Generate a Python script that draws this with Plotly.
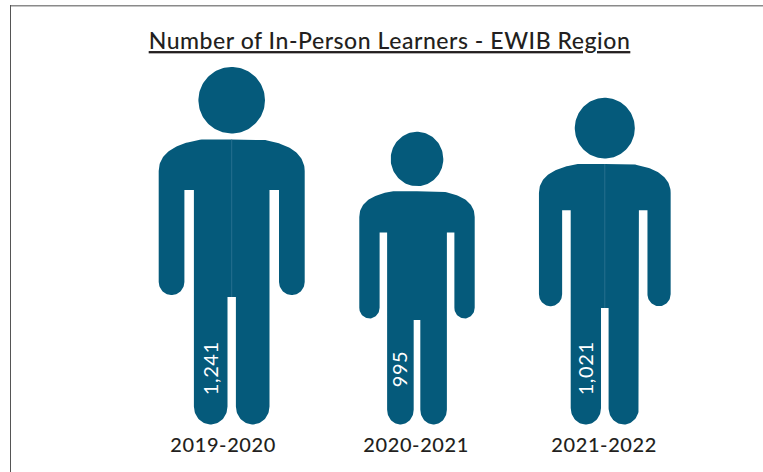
import numpy as np
import plotly.graph_objects as go

# ---- data ----
TITLE = "Number of In-Person Learners - EWIB Region"
categories = ["2019-2020", "2020-2021", "2021-2022"]
learners = [1241, 995, 1021]
# drawn size of each silhouette (the picture's sizes are not proportional to the values)
figure_heights = [357.5, 292.7, 326.7]
figure_widths = [146.0, 115.4, 131.7]
figure_centers = [231.7, 417.0, 604.8]
label_centers = [223.5, 415.5, 603.7]
has_seam = [True, False, True]

# ---- style ----
W, H = 763, 472
BASE_PX = 424.5          # pixel row of the figures' feet (y = 0)
BLUE = "#055A7B"
SEAM = "#2F7594"
INK = "#231F20"
FONT = "Lato"

# ---- silhouette template, in units of the tallest figure ----
REF_W, REF_H = 146.0, 357.5


def arc(cu, cv, ru, rv, a0, a1, n=40):
    t = np.radians(np.linspace(a0, a1, n))
    return cu + ru * np.cos(t), cv + rv * np.sin(t)


def bezier(p0, p1, p2, p3, n=40):
    t = np.linspace(0, 1, n)[:, None]
    p = ((1 - t) ** 3 * np.array(p0) + 3 * (1 - t) ** 2 * t * np.array(p1)
         + 3 * (1 - t) * t ** 2 * np.array(p2) + t ** 3 * np.array(p3))
    return p[:, 0], p[:, 1]


def half_body():
    """Right half of the body, from the top centre to the crotch."""
    parts = [
        (np.array([0.0]), np.array([285.0])),
        bezier((30, 285), (54, 281.5), (73, 272.5), (73, 253.5)),
        arc(60.15, 142.5, 12.85, 13, 0, -180),
        (np.array([47.3, 37.8]), np.array([234.5, 234.5])),
        arc(21, 18, 16.8, 18, 0, -180),
        (np.array([4.2, 0.0]), np.array([127.5, 127.5])),
    ]
    return np.concatenate([p[0] for p in parts]), np.concatenate([p[1] for p in parts])


fig = go.Figure()
u, v = half_body()
hu, hv = arc(0, 324.3, 33.3, 33.25, 0, 360, 120)

for cat, val, fh, fw, cx, seam in zip(categories, learners, figure_heights,
                                      figure_widths, figure_centers, has_seam):
    sx, sy = fw / REF_W, fh / REF_H
    body_x = np.concatenate([cx + u * sx, (cx - u * sx)[::-1]])
    body_y = np.concatenate([v * sy, v[::-1] * sy])
    fig.add_trace(go.Scatter(
        x=np.concatenate([body_x, [None], cx + hu * sx]),
        y=np.concatenate([body_y, [None], hv * sy]),
        mode="lines", fill="toself", fillcolor=BLUE,
        line=dict(width=0, color=BLUE), name=cat, showlegend=False,
        hovertemplate=f"{cat}: {val:,}<extra></extra>",
    ))
    if seam:
        fig.add_trace(go.Scatter(
            x=[cx, cx], y=[127.5 * sy, 285 * sy], mode="lines",
            line=dict(width=0.8, color=SEAM), showlegend=False, hoverinfo="skip",
        ))
    fig.add_annotation(
        x=cx - 21 * sx - 1.5, y=56, text=f"{val:,}", textangle=-90, showarrow=False,
        xanchor="center", yanchor="middle",
        font=dict(family=FONT, size=20, color="white"),
    )

for cat, lx in zip(categories, label_centers):
    fig.add_annotation(
        x=lx, y=BASE_PX - 443.5, text=cat, showarrow=False,
        xanchor="center", yanchor="middle",
        font=dict(family=FONT, size=20, color=INK, weight=500),
    )

# frame lines of the original image
fig.add_shape(type="line", xref="paper", yref="paper", x0=10 / W, x1=1,
              y0=1 - 5.7 / H, y1=1 - 5.7 / H, line=dict(color="#8A8A8A", width=1.6))
fig.add_shape(type="line", xref="paper", yref="paper", x0=10.5 / W, x1=10.5 / W,
              y0=0, y1=1 - 5 / H, line=dict(color="#555555", width=1))

fig.update_layout(
    width=W, height=H,
    margin=dict(l=0, r=0, t=0, b=0),
    autosize=False,
    paper_bgcolor="white", plot_bgcolor="white",
    showlegend=False,
    title=dict(text=TITLE, x=389.5 / W, xanchor="center", xref="paper",
               y=1 - 41 / H, yanchor="middle", yref="paper",
               font=dict(family=FONT, size=23, color=INK, weight=500, lineposition="under")),
    xaxis=dict(range=[0, W], visible=False, fixedrange=True),
    yaxis=dict(range=[BASE_PX - H, BASE_PX], visible=False, fixedrange=True),
)

# remove the page's default margin; the reference text is slightly letter-spaced
POST = """
document.documentElement.style.overflow = 'hidden';
document.body.style.margin = '0';
document.querySelectorAll('.annotation-text').forEach(function (t) { t.style.letterSpacing = '0.6px'; });
document.querySelectorAll('.gtitle').forEach(function (t) { t.style.letterSpacing = '0.55px'; });
"""
fig.write_html("out.html", config={"displayModeBar": False}, post_script=POST)
